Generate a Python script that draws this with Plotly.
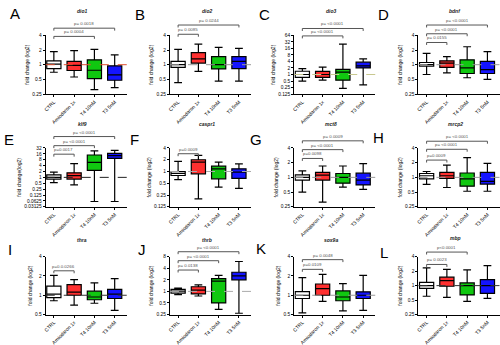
import math
import plotly.graph_objects as go

W, H = 500, 345

groups = ["CTRL", "Amiodaron 1x", "T4 10nM", "T3 5nM"]
fills = ["#ffffff", "#ff3030", "#10c810", "#1414ff"]

letters = ["A", "B", "C", "D", "E", "F", "G", "H", "I", "J", "K", "L"]
genes = ["dio1", "dio2", "dio3", "bdnf", "klf9", "caspr1",
         "mct8", "mrcp2", "thra", "thrb", "sox9a", "mbp"]

# box statistics per gene: lower whisker, Q1, median, Q3, upper whisker (fold change)
dio1 = dict(lo=[0.70, 0.56, 0.31, 0.34], q1=[0.83, 0.76, 0.52, 0.48],
            med=[1.03, 0.97, 0.77, 0.62], q3=[1.20, 1.17, 1.26, 0.95],
            hi=[1.85, 1.94, 2.06, 1.59])
dio2 = dict(lo=[0.43, 0.73, 0.46, 0.46], q1=[0.88, 1.08, 0.82, 0.83],
            med=[1.00, 1.32, 1.00, 1.17], q3=[1.17, 1.77, 1.47, 1.47],
            hi=[2.06, 2.64, 2.26, 2.16])
dio3 = dict(lo=[0.50, 0.55, 0.23, 0.33], q1=[0.73, 0.73, 0.55, 2.0],
            med=[1.00, 1.00, 1.30, 2.5], q3=[1.41, 1.40, 1.74, 3.7],
            hi=[1.87, 2.20, 25.0, 5.3])
bdnf = dict(lo=[0.63, 0.68, 0.54, 0.50], q1=[0.93, 0.88, 0.66, 0.66],
            med=[1.00, 1.08, 0.86, 0.79], q3=[1.11, 1.20, 1.26, 1.17],
            hi=[1.71, 1.47, 2.33, 1.85])
klf9 = dict(lo=[0.54, 0.41, 0.058, 0.058], q1=[0.82, 0.82, 2.3, 9.4],
            med=[1.00, 1.22, 5.8, 13.0], q3=[1.33, 1.70, 14.0, 17.0],
            hi=[1.84, 5.1, 23.0, 24.0])
caspr1 = dict(lo=[0.62, 0.20, 0.40, 0.37], q1=[0.79, 0.87, 0.65, 0.67],
              med=[0.90, 1.74, 1.17, 0.96], q3=[1.00, 2.00, 1.37, 1.17],
              hi=[1.81, 2.60, 1.74, 1.57])
mct8 = dict(lo=[0.50, 0.31, 0.63, 0.57], q1=[0.88, 0.88, 0.76, 0.70],
            med=[1.00, 1.11, 1.00, 0.88], q3=[1.13, 1.26, 1.20, 1.22],
            hi=[1.36, 1.71, 1.71, 1.91])
mrcp2 = dict(lo=[0.72, 0.62, 0.52, 0.52], q1=[0.93, 0.95, 0.66, 0.73],
             med=[1.08, 1.08, 0.93, 0.83], q3=[1.20, 1.26, 1.23, 1.26],
             hi=[1.32, 1.79, 2.54, 1.94])
thra = dict(lo=[0.82, 0.70, 0.75, 0.58], q1=[0.92, 1.00, 0.85, 0.89],
            med=[1.04, 1.12, 0.94, 1.04], q3=[1.39, 1.47, 1.16, 1.24],
            hi=[2.05, 1.76, 1.56, 1.82])
thrb = dict(lo=[0.82, 0.76, 0.34, 0.27], q1=[0.90, 0.86, 0.50, 2.0],
            med=[1.02, 1.08, 1.85, 2.53], q3=[1.13, 1.32, 2.16, 3.15],
            hi=[1.22, 1.48, 2.60, 6.0])
sox9a = dict(lo=[0.53, 0.80, 0.57, 0.58], q1=[0.89, 1.00, 0.82, 0.89],
             med=[1.00, 1.27, 0.94, 1.00], q3=[1.14, 1.50, 1.17, 1.13],
             hi=[1.88, 2.12, 1.52, 2.05])
mbp = dict(lo=[0.60, 0.57, 0.47, 0.54], q1=[0.88, 0.97, 0.64, 0.69],
           med=[1.00, 1.27, 1.00, 1.00], q3=[1.17, 1.50, 1.14, 1.33],
           hi=[2.35, 2.17, 2.13, 2.60])
stats = [dio1, dio2, dio3, bdnf, klf9, caspr1, mct8, mrcp2, thra, thrb, sox9a, mbp]

# y tick values for each panel (log2 axes)
ticks = [
    [0.25, 0.5, 1, 2, 4],
    [0.25, 0.5, 1, 2, 4],
    [0.125, 0.25, 0.5, 1, 2, 4, 8, 16, 32, 64],
    [0.25, 0.5, 1, 2, 4],
    [0.03125, 0.0625, 0.125, 0.25, 0.5, 1, 2, 4, 8, 16, 32],
    [0.125, 0.25, 0.5, 1, 2, 4],
    [0.25, 0.5, 1, 2, 4],
    [0.25, 0.5, 1, 2, 4],
    [0.5, 1, 2, 4],
    [0.25, 0.5, 1, 2, 4, 8],
    [0.5, 1, 2, 4],
    [0.25, 0.5, 1, 2, 4],
]

# significance brackets: (from group, to group, height in fold change, label)
brackets = [
    [(0, 3, 5.6, "p= 0.0018"), (0, 2, 3.8, "p= 0.0004")],
    [(0, 3, 6.5, "p= 0.0244"), (0, 1, 4.2, "p= 0.0085")],
    [(0, 3, 132, "p= <0.0001"), (0, 2, 60, "p= <0.0001")],
    [(0, 3, 6.5, "p= <0.0001"), (0, 2, 4.3, "p= <0.0001"), (0, 1, 2.85, "p= 0.0155")],
    [(0, 3, 123, "p= <0.0001"), (0, 2, 42, "p= <0.0001"), (0, 1, 15.4, "p=0.0017")],
    [(0, 1, 2.85, "p=0.0009")],
    [(0, 3, 5.6, "p= 0.0009"), (0, 2, 3.7, "p= <0.0001"), (0, 1, 2.44, "p=0.0098")],
    [(0, 3, 5.5, "p= <0.0001"), (0, 2, 3.76, "p= <0.0001"), (0, 1, 2.26, "p=0.0009")],
    [(0, 1, 2.41, "p=0.0.0266")],
    [(0, 3, 10.8, "p= <0.0001"), (0, 2, 6.3, "p= <0.0001"), (0, 1, 3.6, "p= 0.0138")],
    [(0, 2, 3.6, "p= 0.0048"), (0, 1, 2.54, "p=0.0109")],
    [(0, 2, 5.0, "p<0.0001"), (0, 1, 2.76, "p= 0.0023")],
]

ref_colors = ["#e05030", "#999999", "#c8c890", "#999999", "#222222", "#aaaaaa",
              "#999999", "#999999", "#333333", "#aaaaaa", "#999999", "#333333"]
ytitles = ["fold change (log2)"] * 12
ytitles[4] = "fold change(log2)"

# panel geometry in pixels
col_x = [0, 125, 250, 375]
row_y = [(34, 94), (149, 209), (260, 319)]
x_lo, x_hi = -0.4, 3.6
cat_px = 20.4
FONT = "Liberation Sans, Arial, sans-serif"

fig = go.Figure()
layout = dict(width=W, height=H, margin=dict(l=0, r=0, t=0, b=0),
              paper_bgcolor="white", plot_bgcolor="white", showlegend=False,
              font=dict(family=FONT, color="black"))
shapes, annos = [], []

letter_pos = [(12, 12), (138, 13), (263, 13), (383, 13),
              (6, 140), (132, 140), (255, 140), (378, 138),
              (7, 253), (140, 253), (260, 252), (383, 256)]
title_y = [9, 9, 9, 9, 125, 125, 125, 125, 243, 243, 243, 241]

for k in range(12):
    r, c = divmod(k, 4)
    ax = "" if k == 0 else str(k + 1)
    x0 = col_x[c] + 43
    x1 = x0 + cat_px * (x_hi - x_lo)
    ytop, ybot = row_y[r]
    tv = ticks[k]
    ymin, ymax = tv[0], tv[-1]
    ly0, ly1 = math.log2(ymin), math.log2(ymax)

    layout["xaxis" + ax] = dict(
        domain=[x0 / W, x1 / W], anchor="y" + ax, type="category",
        range=[x_lo, x_hi], showline=True, linecolor="black", linewidth=1.2,
        ticks="outside", ticklen=2, tickcolor="black", tickangle=-45,
        tickfont=dict(size=5, family=FONT), showgrid=False, zeroline=False,
        categoryorder="array", categoryarray=groups, fixedrange=True)
    layout["yaxis" + ax] = dict(
        domain=[1 - ybot / H, 1 - ytop / H], anchor="x" + ax, type="log",
        range=[math.log10(ymin), math.log10(ymax)],
        tickvals=tv, ticktext=[("%g" % v) for v in tv],
        showline=True, linecolor="black", linewidth=1.2, ticks="outside",
        ticklen=2, tickcolor="black", tickfont=dict(size=4.8, family=FONT),
        showgrid=False, zeroline=False,
        title=dict(text=ytitles[k], font=dict(size=5, family=FONT), standoff=2))

    s = stats[k]
    for i, g in enumerate(groups):
        fig.add_trace(go.Box(
            x=[g], q1=[s["q1"][i]], median=[s["med"][i]], q3=[s["q3"][i]],
            lowerfence=[s["lo"][i]], upperfence=[s["hi"][i]],
            fillcolor=fills[i], line=dict(color="black", width=1.2),
            width=0.7, whiskerwidth=0.55, boxpoints=False,
            xaxis="x" + ax, yaxis="y" + ax, hoverinfo="skip"))

    # dashed reference line at fold change = 1
    shapes.append(dict(type="line", xref="x%s domain" % ax, yref="y" + ax,
                       x0=0, x1=1, y0=1, y1=1,
                       line=dict(color=ref_colors[k], width=1, dash="dash")))

    def yfrac(v):
        return (math.log2(v) - ly0) / (ly1 - ly0)

    def xfrac(i):
        return (i - x_lo) / (x_hi - x_lo)

    drop = 2.5 / (ybot - ytop)
    for (a, b, yv, txt) in brackets[k]:
        yf = yfrac(yv)
        xa, xb = xfrac(a), xfrac(b)
        shapes.append(dict(
            type="path", xref="x%s domain" % ax, yref="y%s domain" % ax,
            path="M %f,%f L %f,%f L %f,%f L %f,%f" % (xa, yf - drop, xa, yf, xb, yf, xb, yf - drop),
            line=dict(color="#555555", width=1)))
        annos.append(dict(text=txt, xref="x%s domain" % ax, yref="y%s domain" % ax,
                          x=(xa + xb) / 2, y=yf, yanchor="bottom", xanchor="center",
                          showarrow=False, font=dict(size=4.4, color="#555555", family=FONT)))

    lx, lyy = letter_pos[k]
    annos.append(dict(text=letters[k], xref="paper", yref="paper", x=lx / W,
                      y=1 - lyy / H, xanchor="center", yanchor="middle", showarrow=False,
                      font=dict(size=15, family=FONT, color="black")))
    annos.append(dict(text="<b><i>%s</i></b>" % genes[k], xref="paper", yref="paper",
                      x=(x0 + x1) / 2 / W - 4 / W, y=1 - title_y[k] / H,
                      xanchor="center", yanchor="middle", showarrow=False,
                      font=dict(size=5, family=FONT, color="#222222")))

layout["shapes"] = shapes
layout["annotations"] = annos
fig.update_layout(**layout)
fig.write_html("out.html")
